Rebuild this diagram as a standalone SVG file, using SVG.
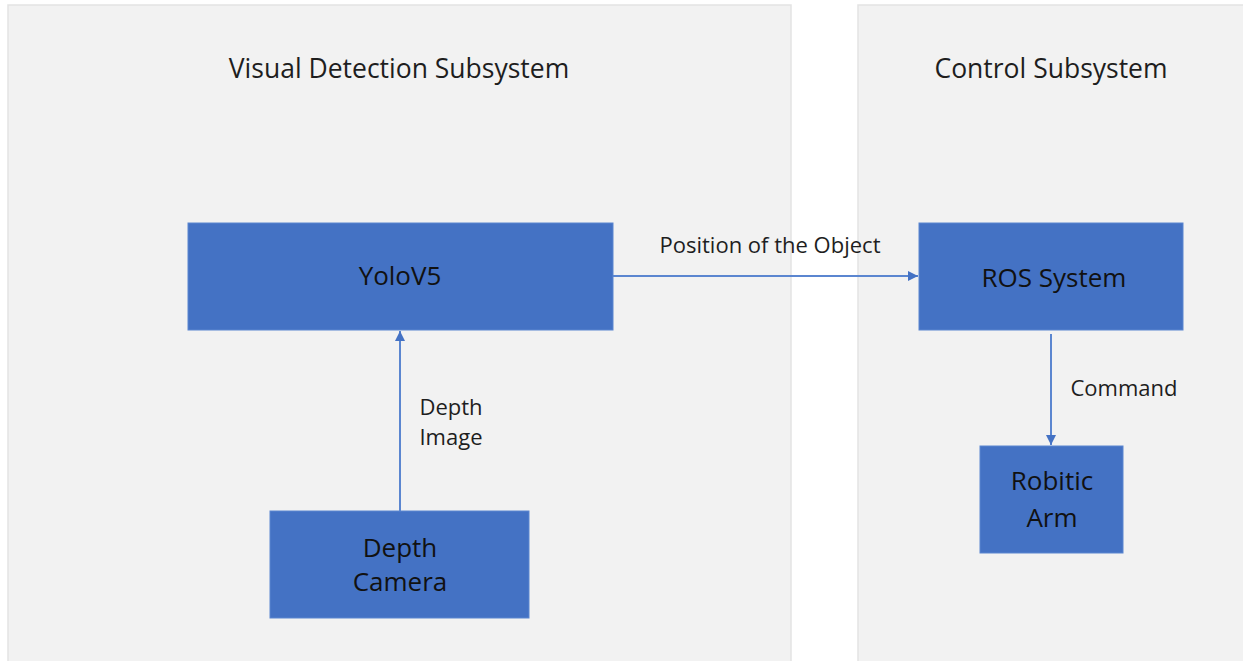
<svg xmlns="http://www.w3.org/2000/svg" width="1243" height="661" viewBox="0 0 1243 661">
<defs>
<style>
.panel{fill:#F2F2F2;stroke:#E3E3E3;stroke-width:1.5}
.box{fill:#4472C4;stroke:#5B86D0;stroke-width:1}
.t{font-family:"Open Sans","Noto Sans","Liberation Sans",sans-serif;fill:#1E1E1E;text-anchor:middle}
.title{font-size:26.5px}
.bt{font-size:26px;fill:#111111}
.lbl{font-size:22px}
.conn{stroke:#5B86D0;stroke-width:2;fill:none}
</style>
<marker id="ah" viewBox="0 0 10 10" refX="10" refY="5" markerWidth="5" markerHeight="5" orient="auto-start-reverse" markerUnits="strokeWidth">
<path d="M0,0 L10,5 L0,10 z" fill="#4472C4"/>
</marker>
</defs>
<rect width="1243" height="661" fill="#FFFFFF"/>
<g id="panel-visual">
<rect class="panel" x="8" y="5" width="783" height="660"/>
<text class="t title" x="399" y="78">Visual Detection Subsystem</text>
</g>
<g id="panel-control">
<rect class="panel" x="858" y="5" width="390" height="660"/>
<text class="t title" x="1051" y="78">Control Subsystem</text>
</g>
<g id="connectors">
<line class="conn" x1="613" y1="276" x2="918" y2="276" marker-end="url(#ah)"/>
<line class="conn" x1="400" y1="511" x2="400" y2="331" marker-end="url(#ah)"/>
<line class="conn" x1="1051" y1="334" x2="1051" y2="445" marker-end="url(#ah)"/>
<text class="t lbl" x="770" y="253">Position of the Object</text>
<text class="t lbl" x="451" y="415">Depth</text>
<text class="t lbl" x="451" y="445">Image</text>
<text class="t lbl" x="1124" y="396">Command</text>
</g>
<g id="node-yolov5">
<rect class="box" x="188" y="223" width="425" height="107"/>
<text class="t bt" x="400" y="285">YoloV5</text>
</g>
<g id="node-ros">
<rect class="box" x="919" y="223" width="264" height="107"/>
<text class="t bt" x="1054" y="287">ROS System</text>
</g>
<g id="node-camera">
<rect class="box" x="270" y="511" width="259" height="107"/>
<text class="t bt" x="400" y="557">Depth</text>
<text class="t bt" x="400" y="591">Camera</text>
</g>
<g id="node-arm">
<rect class="box" x="980" y="446" width="143" height="107"/>
<text class="t bt" x="1052" y="490">Robitic</text>
<text class="t bt" x="1052" y="527">Arm</text>
</g>
</svg>
